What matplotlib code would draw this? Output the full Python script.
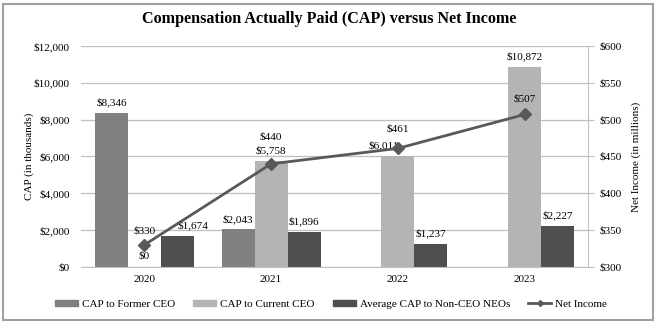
import matplotlib.pyplot as plt
import matplotlib.patches as mpatches
import numpy as np

years = ['2020', '2021', '2022', '2023']
cap_former = [8346, 2043, None, None]
cap_current = [0, 5758, 6011, 10872]
cap_neo = [1674, 1896, 1237, 2227]
net_income = [330, 440, 461, 507]

plt.rcParams['font.family'] = ['Liberation Serif', 'DejaVu Serif']

c_former = '#808080'
c_current = '#b4b4b4'
c_neo = '#4f4f4f'
c_line = '#595959'

fig = plt.figure(figsize=(6.58, 3.25), dpi=100)
ax = fig.add_axes([0.1231, 0.1785, 0.7705, 0.68])
ax2 = ax.twinx()

x = np.arange(len(years))
w = 0.26

# label x shifts (points) where the labels were nudged to avoid overlap
neo_dx = [11, 0, 0, 0]
cur_dx = [0, 0, -10, 0]

for i in range(len(years)):
    if cap_former[i] is not None:
        ax.bar(x[i] - w, cap_former[i], w, color=c_former, zorder=2)
        ax.annotate('${:,}'.format(cap_former[i]), (x[i] - w, cap_former[i]), xytext=(0, 4),
                    textcoords='offset points', ha='center', va='bottom', fontsize=8)
    ax.bar(x[i], cap_current[i], w, color=c_current, zorder=2)
    ax.bar(x[i] + w, cap_neo[i], w, color=c_neo, zorder=2)
    ax.annotate('${:,}'.format(cap_neo[i]), (x[i] + w, cap_neo[i]), xytext=(neo_dx[i], 4),
                textcoords='offset points', ha='center', va='bottom', fontsize=8)

# current CEO labels
ax.annotate('$0', (x[0], 0), xytext=(0, 5), textcoords='offset points',
            ha='center', va='bottom', fontsize=8)
for i in range(1, 4):
    ax.annotate('${:,}'.format(cap_current[i]), (x[i], cap_current[i]), xytext=(cur_dx[i], 4),
                textcoords='offset points', ha='center', va='bottom', fontsize=8)

ax.set_ylim(0, 12000)
ax.set_yticks(range(0, 12001, 2000))
ax.set_yticklabels(['${:,}'.format(v) for v in range(0, 12001, 2000)], fontsize=8)
ax.set_xlim(-0.5, 3.5)
ax.set_xticks(x)
ax.set_xticklabels(years, fontsize=8)
ax.tick_params(axis='x', length=0, pad=6)
ax.tick_params(axis='y', length=0, pad=8)
ax.yaxis.grid(True, color='#bfbfbf', linewidth=0.9, zorder=0)
ax.set_axisbelow(True)
for s in ['left', 'top', 'right']:
    ax.spines[s].set_visible(False)
ax.spines['bottom'].set_color('#bfbfbf')
ax.set_ylabel('CAP (in thousands)', fontsize=8, labelpad=0)

ax2.plot(x, net_income, color=c_line, linewidth=2, marker='D', markersize=6, zorder=5)
ax2.set_ylim(300, 600)
ax2.set_yticks(range(300, 601, 50))
ax2.set_yticklabels(['${}'.format(v) for v in range(300, 601, 50)], fontsize=8)
ax2.tick_params(axis='y', length=4, color='#bfbfbf', pad=4)
for s in ['left', 'top', 'bottom']:
    ax2.spines[s].set_visible(False)
ax2.spines['right'].set_color('#bfbfbf')
ax2.set_ylabel('Net Income (in millions)', fontsize=8, labelpad=7)

ni_off = [6.5, 16, 11, 8]
for i in range(4):
    ax2.annotate('${}'.format(net_income[i]), (x[i], net_income[i]), xytext=(0, ni_off[i]),
                 textcoords='offset points', ha='center', va='bottom', fontsize=8)

fig.suptitle('Compensation Actually Paid (CAP) versus Net Income', fontsize=11.6,
             fontweight='bold', y=0.966)

handles = [mpatches.Patch(color=c_former, label='CAP to Former CEO'),
           mpatches.Patch(color=c_current, label='CAP to Current CEO'),
           mpatches.Patch(color=c_neo, label='Average CAP to Non-CEO NEOs'),
           plt.Line2D([], [], color=c_line, linewidth=2, marker='D', markersize=3, label='Net Income')]
fig.legend(handles=handles, loc='center', bbox_to_anchor=(0.503, 0.064), ncol=4, frameon=False,
           fontsize=8, handlelength=2.1, handleheight=0.5, columnspacing=1.6, handletextpad=0.35)

fig.patches.append(mpatches.Rectangle((0.005, 0.015), 0.988, 0.972, transform=fig.transFigure,
                                      fill=False, edgecolor='#a0a0a0', linewidth=1.5))

fig.savefig('out.png', dpi=100)
